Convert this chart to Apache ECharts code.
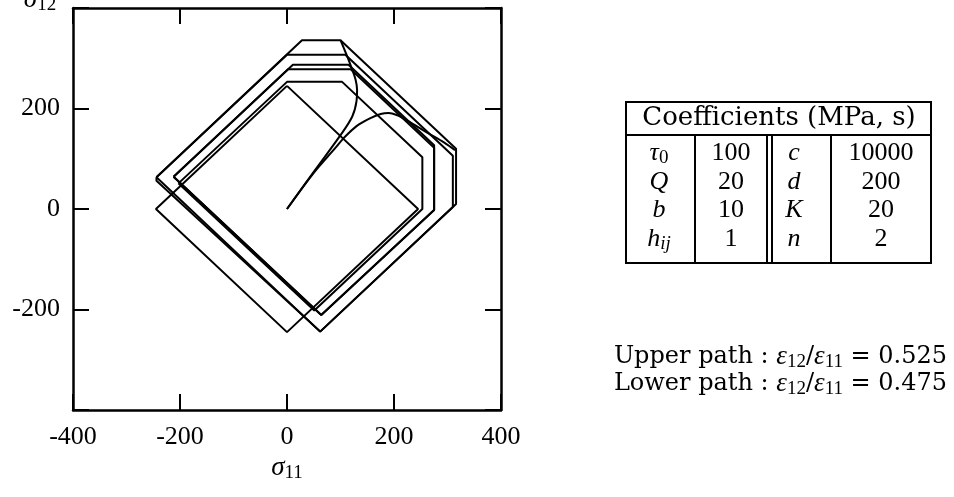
<!DOCTYPE html>
<html>
<head>
<meta charset="utf-8">
<script src="https://cdn.jsdelivr.net/npm/echarts@6/dist/echarts.min.js"></script>
<style>
html,body{margin:0;padding:0;background:#fff;}
#chart{width:954px;height:497px;}
</style>
</head>
<body>
<div id="chart"></div>
<script>
// ---------- data ----------
var xTicks = [-400, -200, 0, 200, 400];
var yTicks = [-400, -200, 0, 200, 400];

// initial (monotonic) loading curves
var upperPathInitial = [[0,0],[50,74],[100,147],[122,184],[130,215],[131,237],[128,258],[121,280],[112,305],[100,336]];
var lowerPathInitial = [[0,0],[50,72],[90,121],[106,141],[130,165],[156,181],[175,189],[190,191],[205,187],[225,176],[262,152],[294,132],[314,117]];

// cyclic loops
var loop1 = [[-244,63],[28,336],[100,336],[316,120],[316,10],[62,-244],[-244,56],[-244,63]];
var loop2 = [[-244,63],[0,307],[109,307],[310,106],[310,4],[62,-244],[-244,63]];
var loop3 = [[-212,64],[11,287],[115,287],[275,127],[275,-2],[64,-211],[-212,64]];
var loop4 = [[-212,64],[2,278],[119,278],[275,122],[275,-2],[64,-211],[-212,64]];
var loop5 = [[-203,51],[0,253],[103,253],[253,103],[253,0],[51,-202],[-203,51]];
var loop6 = [[0,245],[245,0],[0,-245],[-245,0],[0,245]];

// table
var coefNamesA = ['τ', 'Q', 'b', 'h'];
var coefSubsA = ['0', '', '', 'ij'];
var coefValsA = ['100', '20', '10', '1'];
var coefNamesB = ['c', 'd', 'K', 'n'];
var coefValsB = ['10000', '200', '20', '2'];
var ratioLabels = ['Upper path', 'Lower path'];
var ratioValues = ['0.525', '0.475'];

// ---------- chart ----------
var chart = echarts.init(document.getElementById('chart'));
var numFont = 'Liberation Serif';
var wordFont = 'DejaVu Serif';

function lineSeries(d, smooth) {
  return {
    type: 'line', data: d, xAxisIndex: 0, yAxisIndex: 0,
    showSymbol: false, smooth: smooth ? 0.35 : false,
    lineStyle: {color: '#000', width: 2}, silent: true, animation: false
  };
}

var series = [
  lineSeries(loop1), lineSeries(loop2), lineSeries(loop3),
  lineSeries(loop4), lineSeries(loop5), lineSeries(loop6),
  lineSeries(upperPathInitial, true), lineSeries(lowerPathInitial, true)
];

var axisCommon = {
  type: 'value', min: -400, max: 400, interval: 200,
  axisLine: {show: true, onZero: false, lineStyle: {color: '#000', width: 2.5}},
  axisTick: {show: true, inside: true, length: 16, lineStyle: {color: '#000', width: 2}},
  splitLine: {show: false}
};

// table graphics
var g = [];
var tx0 = 626, tx1 = 931, ty0 = 102, ty1 = 263, tyH = 135;
g.push({type:'rect', shape:{x:tx0, y:ty0, width:tx1-tx0, height:ty1-ty0}, style:{fill:'none', stroke:'#000', lineWidth:2}});
g.push({type:'line', shape:{x1:tx0, y1:tyH, x2:tx1, y2:tyH}, style:{stroke:'#000', lineWidth:2}});
[695, 767, 772, 831].forEach(function(x){
  g.push({type:'line', shape:{x1:x, y1:tyH, x2:x, y2:ty1}, style:{stroke:'#000', lineWidth:2}});
});
g.push({type:'text', x:779, y:118, style:{text:'Coefficients (MPa, s)', font:'26px "' + wordFont + '"', fill:'#000', align:'center', verticalAlign:'middle'}});
var rowY = [153, 182, 210, 239];
for (var i = 0; i < 4; i++) {
  g.push({type:'text', x:659, y:rowY[i], style:{
    text: '{n|' + coefNamesA[i] + '}' + (coefSubsA[i] ? '{s|' + coefSubsA[i] + '}' : ''),
    align:'center', verticalAlign:'middle',
    rich:{n:{font:'italic 26px "' + numFont + '"', fill:'#000'}, s:{font:(coefSubsA[i]==='ij' ? 'italic ' : '') + '19px "' + numFont + '"', fill:'#000', padding:[10,0,0,0]}}
  }});
  g.push({type:'text', x:731, y:rowY[i], style:{text:coefValsA[i], font:'26px "' + numFont + '"', fill:'#000', align:'center', verticalAlign:'middle'}});
  g.push({type:'text', x:794, y:rowY[i], style:{text:coefNamesB[i], font:'italic 26px "' + numFont + '"', fill:'#000', align:'center', verticalAlign:'middle'}});
  g.push({type:'text', x:881, y:rowY[i], style:{text:coefValsB[i], font:'26px "' + numFont + '"', fill:'#000', align:'center', verticalAlign:'middle'}});
}
var ratioY = [357, 384];
for (var k = 0; k < 2; k++) {
  g.push({type:'text', x:947, y:ratioY[k], style:{
    text: '{w|' + ratioLabels[k] + ' : }{m|ε}{s|12}{w|/}{m|ε}{s|11}{w| = ' + ratioValues[k] + '}',
    align:'right', verticalAlign:'middle',
    rich:{
      w:{font:'24px "' + wordFont + '"', fill:'#000'},
      m:{font:'italic 27px "' + numFont + '"', fill:'#000'},
      s:{font:'19px "' + numFont + '"', fill:'#000', padding:[10,0,0,0]}
    }
  }});
}
// axis titles
g.push({type:'text', x:287, y:468, style:{text:'{m|σ}{s|11}', align:'center', verticalAlign:'middle',
  rich:{m:{font:'italic 27px "' + numFont + '"', fill:'#000'}, s:{font:'19px "' + numFont + '"', fill:'#000', padding:[10,0,0,0]}}}});
g.push({type:'text', x:40, y:0, style:{text:'{m|σ}{s|12}', align:'center', verticalAlign:'middle',
  rich:{m:{font:'italic 27px "' + numFont + '"', fill:'#000'}, s:{font:'19px "' + numFont + '"', fill:'#000', padding:[10,0,0,0]}}}});

chart.setOption({
  animation: false,
  backgroundColor: '#fff',
  grid: {left: 73, right: 453, top: 8, bottom: 87, containLabel: false},
  xAxis: [
    Object.assign({}, axisCommon, {position: 'bottom',
      axisLabel: {show: true, margin: 14, color: '#000', fontFamily: numFont, fontSize: 26, formatter: function(v){return String(v);}}}),
    Object.assign({}, axisCommon, {position: 'top', axisLabel: {show: false}})
  ],
  yAxis: [
    Object.assign({}, axisCommon, {position: 'left',
      axisLabel: {show: true, margin: 13, color: '#000', fontFamily: numFont, fontSize: 26, formatter: function(v){return (v === 400 || v === -400) ? '' : String(v);}}}),
    Object.assign({}, axisCommon, {position: 'right', axisLabel: {show: false}})
  ],
  series: series,
  graphic: g
});
</script>
</body>
</html>
